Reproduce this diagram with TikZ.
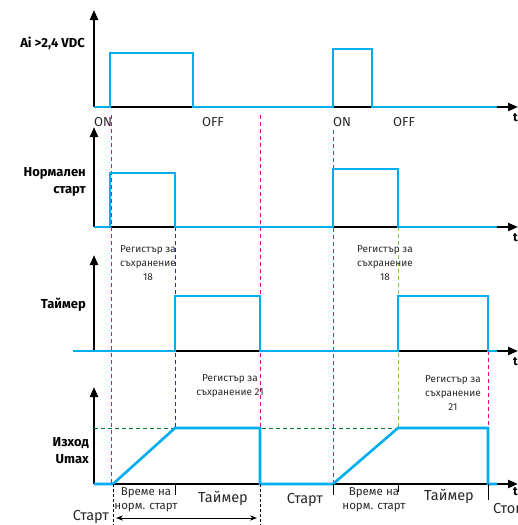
\documentclass[tikz,border=0pt]{standalone}
\usepackage{fontspec}
\setmainfont{Fira Sans}
\usetikzlibrary{positioning}
\usetikzlibrary{arrows.meta}

\definecolor{sigblue}{RGB}{0,174,239}
\definecolor{pinkline}{RGB}{236,0,140}
\definecolor{darkblueline}{RGB}{30,50,170}
\definecolor{greenline}{RGB}{140,198,63}
\definecolor{levelgreen}{RGB}{0,120,50}
\definecolor{txtgray}{RGB}{40,40,40}

\tikzset{
  axis/.style={line width=2.2pt, -{Triangle[length=10pt,width=8pt]}},
  signal/.style={sigblue, line width=2.6pt},
  marker/.style={dashed, line width=1pt, dash pattern=on 4pt off 3pt},
  tickline/.style={line width=1pt},
  sigtitle/.style={font=\bfseries\fontsize{13}{17}\selectfont, align=right, anchor=east, inner sep=0pt},
  note/.style={font=\fontsize{10}{14}\selectfont, text=txtgray, align=center, inner sep=0pt},
  ramp/.style={font=\fontsize{11.5}{13.5}\selectfont, text=txtgray, align=center, inner sep=0pt},
  phase/.style={font=\fontsize{14.5}{16}\selectfont, text=txtgray, align=center, inner sep=0pt},
  onoff/.style={font=\fontsize{13}{15}\selectfont, text=txtgray, inner sep=0pt},
  tlabel/.style={font=\bfseries\fontsize{12}{14}\selectfont, anchor=west, inner sep=0pt},
}

\begin{document}
\begin{tikzpicture}[x=1pt, y=-1pt]
    \useasboundingbox (0,0) rectangle (518,525);

    % Axes
    \draw[axis] (94,107) -- (94,10);
    \draw[axis] (94,107) -- (518,107);
    \draw[axis] (94,227) -- (94,127);
    \draw[axis] (94,227) -- (518,227);
    \draw[axis] (94,351) -- (94,255);
    \draw[axis] (94,351) -- (518,351);
    \draw[axis] (94,484) -- (94,387);
    \draw[axis] (94,484) -- (518,484);

    % Marker lines
    \draw[marker, pinkline] (111,115) -- (111,484);
    \draw[marker, pinkline] (260,115) -- (260,428);
    \draw[marker, pinkline] (333,130) -- (333,484);
    \draw[marker, pinkline] (488,351) -- (488,428);
    \draw[marker, darkblueline] (175,227) -- (175,428);
    \draw[marker, greenline] (398,227) -- (398,428);
    \draw[marker, levelgreen] (94,428) -- (398,428);

    % Signals
    \draw[signal] (94,107) -- (110,107) -- (110,53) -- (193,53) -- (193,107)
      -- (333,107) -- (333,49) -- (372,49) -- (372,107) -- (497,107);
    \draw[signal] (94,227) -- (110,227) -- (110,173) -- (175,173) -- (175,227)
      -- (333,227) -- (333,169) -- (398,169) -- (398,227) -- (497,227);
    \draw[signal] (73,351) -- (175,351) -- (175,296) -- (260,296) -- (260,351)
      -- (398,351) -- (398,296) -- (488,296) -- (488,351) -- (497,351);
    \draw[signal] (94,484) -- (113,484) -- (175,428) -- (260,428) -- (260,484)
      -- (333,484) -- (398,428) -- (488,428) -- (488,484) -- (497,484);

    % Ticks under the output
    \draw[marker, black, dash pattern=on 3pt off 2pt] (113,484) -- (113,525);
    \draw[marker, black, dash pattern=on 3pt off 2pt] (260,484) -- (260,525);
    \draw[tickline] (175,484) -- (175,495);
    \draw[tickline] (333,484) -- (333,495);
    \draw[tickline] (398,484) -- (398,492);
    \draw[tickline] (488,484) -- (488,500);

    % Define nodes
    \node[sigtitle] (ai)     at (85,43)  {Ai >2,4 VDC};
    \node[sigtitle] (normal) at (86,182) {Нормален\\старт};
    \node[sigtitle] (timer)  at (86,305) {Таймер};
    \node[sigtitle] (out)    at (89,451) {Изход\\Umax};

    \node[tlabel] (t1) at (513,118) {t};
    \node[tlabel] (t2) at (513,238) {t};
    \node[tlabel] (t3) at (513,362) {t};
    \node[tlabel] (t4) at (513,492) {t};

    \node[onoff] (on1)  at (103,122) {ON};
    \node[onoff] (off1) at (213,122) {OFF};
    \node[onoff] (on2)  at (342,122) {ON};
    \node[onoff] (off2) at (404,122) {OFF};

    \node[note] (reg1) at (148,263) {Регистър за\\съхранение\\18};
    \node[note] (reg2) at (385,263) {Регистър за\\съхранение\\18};
    \node[note] (reg3) at (230,386) {Регистър за\\съхранение 21};
    \node[note] (reg4) at (453,393) {Регистър за\\съхранение\\21};

    \node[ramp] (ramp1) at (146,500) {Време на\\норм. старт};
    \node[phase] (run1)   at (223,498) {Таймер};
    \node[phase] (start0) at (91,517)  {Старт};
    \node[phase] (start1) at (305,500) {Старт};
    \node[ramp] (ramp2) at (374,500) {Време на\\норм. старт};
    \node[phase] (run2)   at (449,496) {Таймер};
    \node[phase, anchor=west] (stop) at (493,508) {Стоп};

    % Connect the nodes
    \coordinate (from) at (116,518);
    \coordinate (to)   at (257,518);
    \draw[line width=1pt, {Stealth[length=7pt]}-{Stealth[length=7pt]}] (from) -- (to);
\end{tikzpicture}
\end{document}
